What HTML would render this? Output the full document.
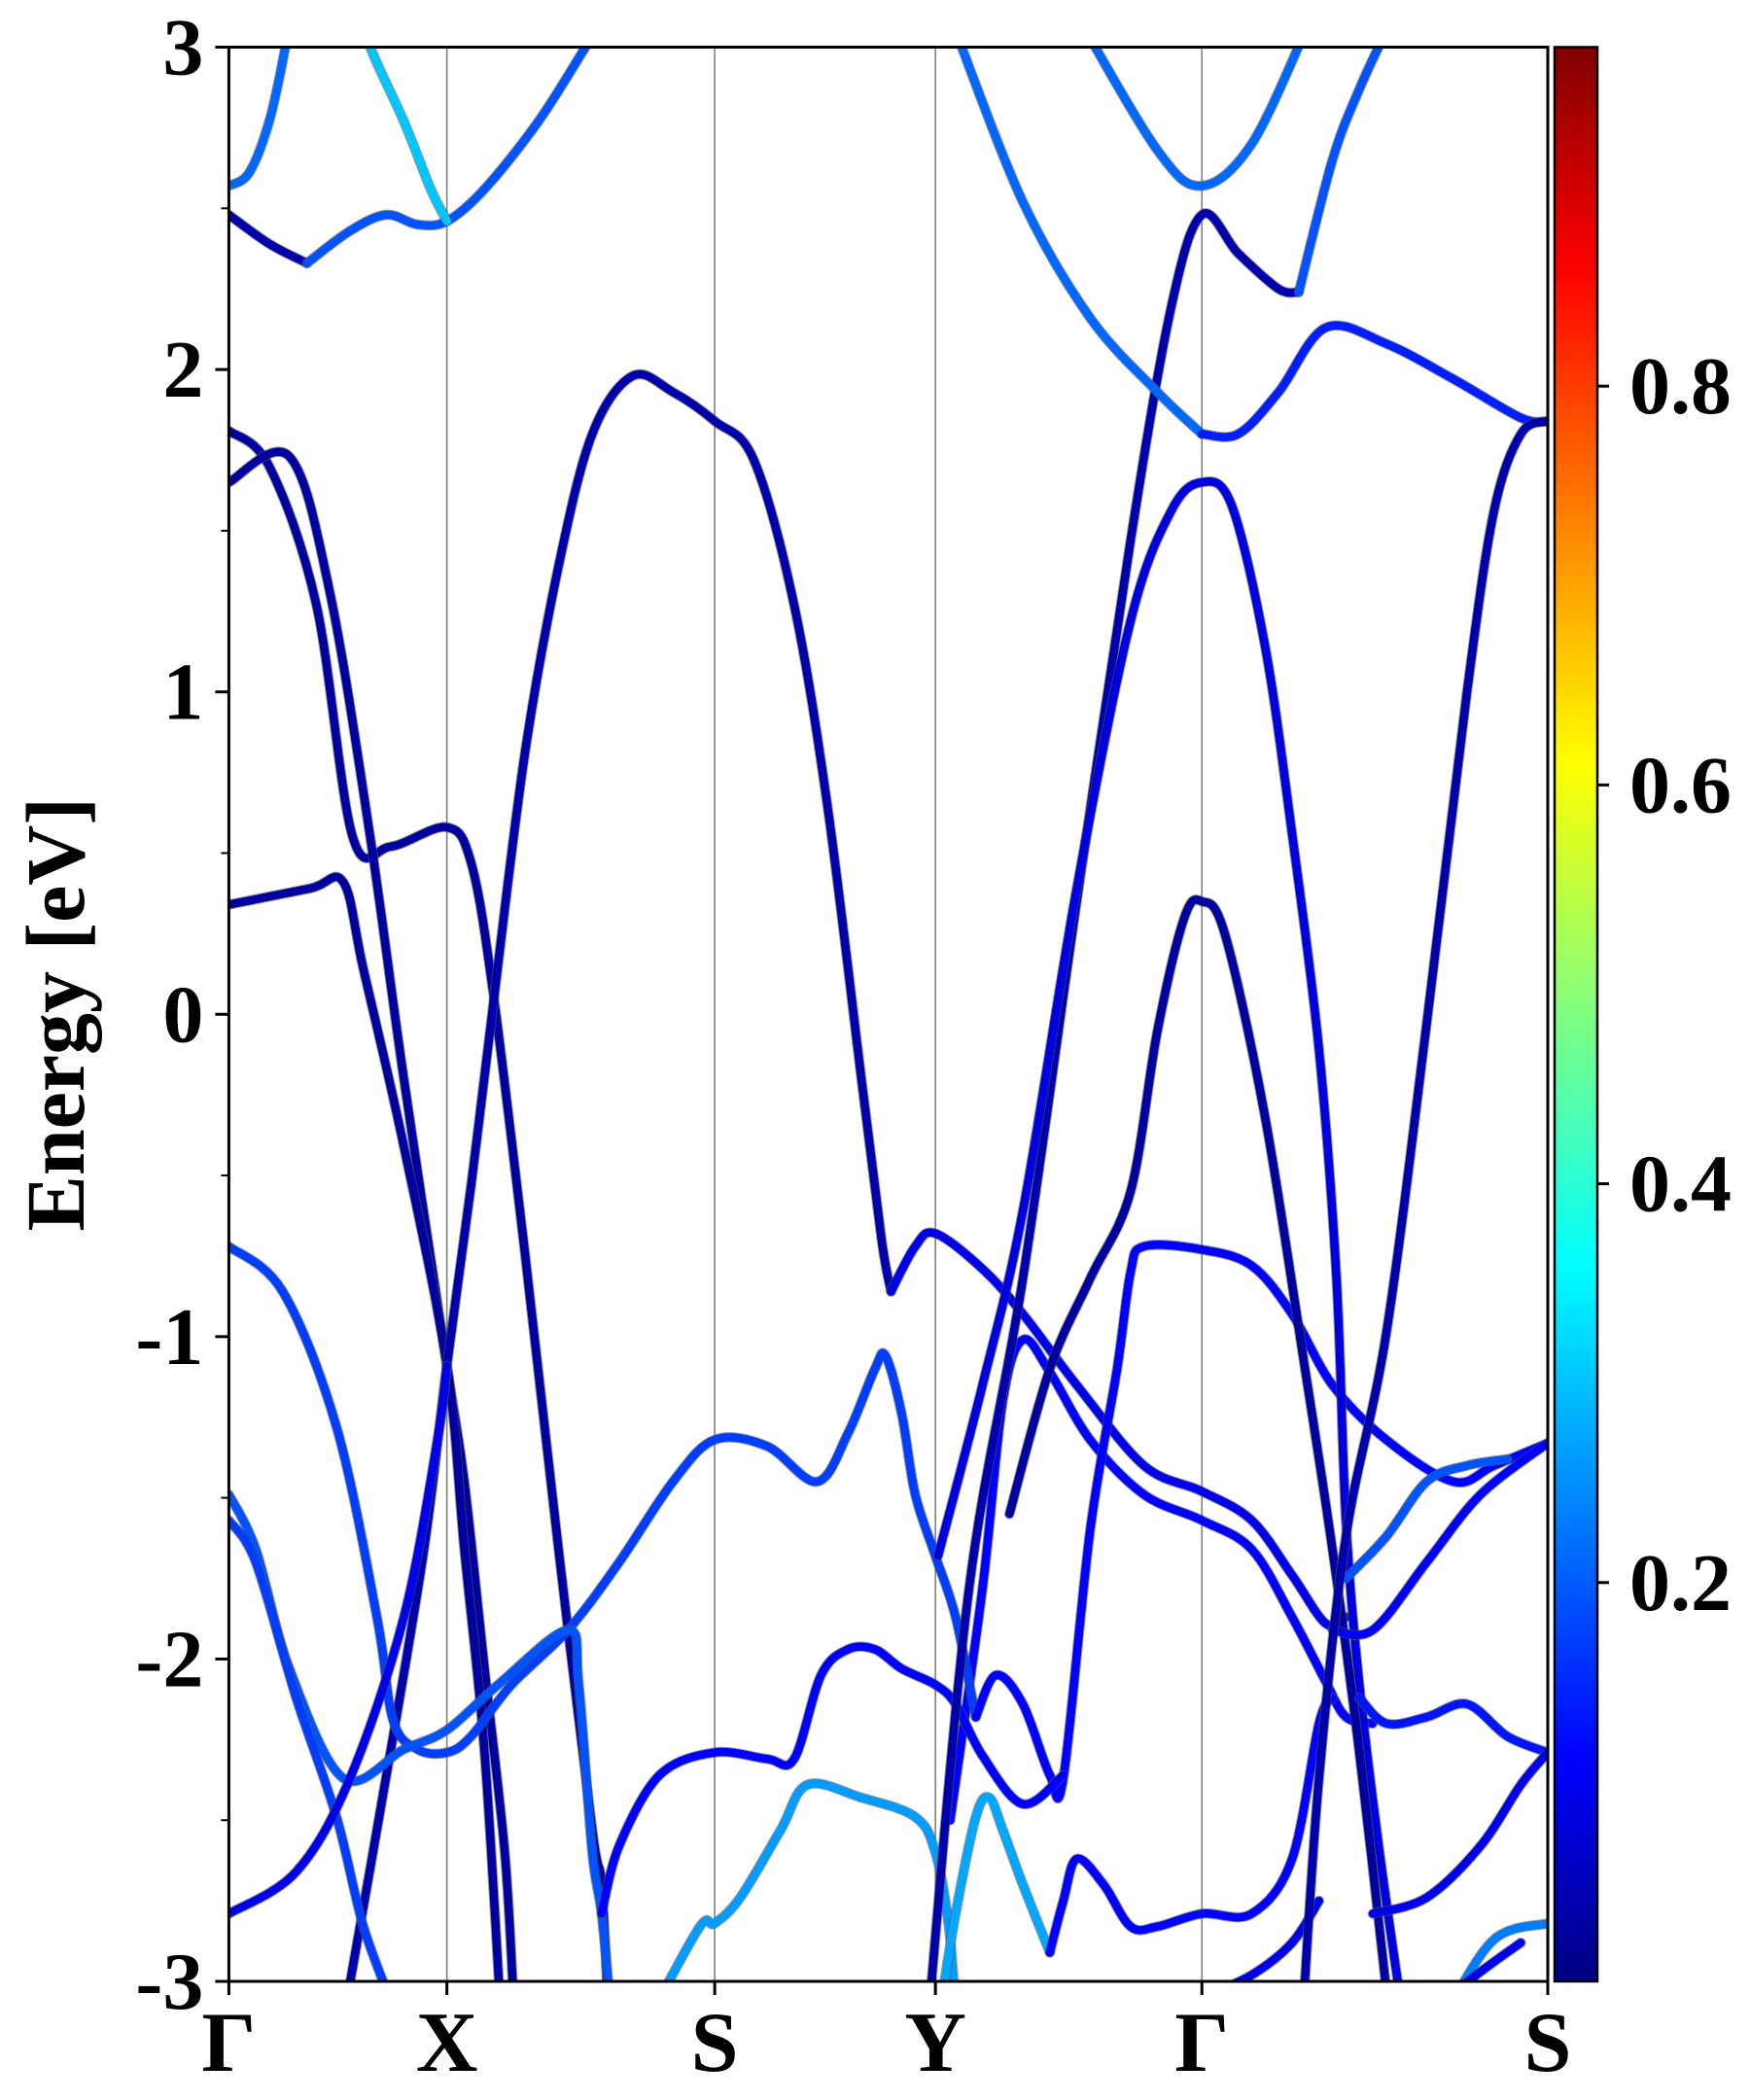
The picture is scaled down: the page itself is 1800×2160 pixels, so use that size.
<!DOCTYPE html>
<html><head><meta charset="utf-8">
<style>
html,body{margin:0;padding:0;background:#fff;}
svg{display:block;}
text{font-family:"Liberation Serif",serif;font-weight:bold;fill:#000;}
</style></head>
<body>
<svg id="chart" width="1800" height="2160" viewBox="0 0 1800 2160" xmlns="http://www.w3.org/2000/svg">
<defs>
<clipPath id="plotclip"><rect x="235.4" y="48.5" width="1356.6" height="1989.5"/></clipPath>
<linearGradient id="jet" x1="0" y1="1" x2="0" y2="0">
<stop offset="0" stop-color="#000080"/>
<stop offset="0.115" stop-color="#0000ff"/>
<stop offset="0.37" stop-color="#00ffff"/>
<stop offset="0.5" stop-color="#80ff80"/>
<stop offset="0.63" stop-color="#ffff00"/>
<stop offset="0.885" stop-color="#ff0000"/>
<stop offset="1" stop-color="#800000"/>
</linearGradient>
</defs>
<g id="bands" clip-path="url(#plotclip)"></g>
<g id="axes"></g>
<g id="colorbar"></g>
</svg>
<script>
const kTickPos = [0, 0.81, 1.805, 2.625, 3.615, 4.9];
const kTickLabels = ["Γ", "X", "S", "Y", "Γ", "S"];
const eTicks = [-3, -2, -1, 0, 1, 2, 3];
const eMinorTicks = [-2.5, -1.5, -0.5, 0.5, 1.5, 2.5];
const cbTicks = [0.2, 0.4, 0.6, 0.8];
const bandWeights = [0.22,0.04,0.2,0.31,0.03,0.03,0.03,0.04,0.1,0.12,0.18,0.12,0.2,0.18,0.1,0.12,0.27,0.28,0.12,0.04,0.2,0.22,0.22,0.15,0.09,0.03,0.14,0.1,0.12,0.1,0.2,0.04,0.24,0.1];
const bandPoints = [
 [[0,2.57],[0.075,2.61],[0.15,2.77],[0.21,3.0],[0.25,3.2]],
 [[0,2.48],[0.15,2.39],[0.29,2.33]],
 [[0.29,2.33],[0.45,2.43],[0.585,2.48],[0.7,2.45],[0.81,2.46],[0.95,2.56],[1.15,2.77],[1.325,3.0],[1.4,3.1]],
 [[0.45,3.2],[0.525,3.0],[0.65,2.77],[0.75,2.56],[0.81,2.46]],
 [[0,1.81],[0.15,1.70],[0.325,1.27],[0.46,0.55],[0.6,0.52],[0.81,0.58],[0.9,0.47],[0.98,0.08],[1.1,-0.74],[1.225,-1.66],[1.35,-2.53],[1.385,-2.70],[1.41,-3.1]],
 [[0,1.65],[0.225,1.73],[0.375,1.31],[0.525,0.55],[0.65,-0.20],[0.81,-1.09],[0.875,-1.45],[0.95,-2.03],[1.025,-2.60],[1.06,-3.1]],
 [[0,0.34],[0.3,0.39],[0.425,0.41],[0.5,0.14],[0.65,-0.41],[0.81,-1.09],[0.875,-1.66],[0.95,-2.29],[1.01,-3.1]],
 [[0.43,-3.1],[0.6,-2.29],[0.725,-1.66],[0.81,-1.09],[0.9,-0.53],[0.985,0.05],[1.1,0.81],[1.225,1.39],[1.35,1.80],[1.5,1.98],[1.65,1.93],[1.805,1.84],[1.95,1.72],[2.1,1.27],[2.225,0.64],[2.35,-0.20],[2.425,-0.70],[2.46,-0.86]],
 [[2.46,-0.86],[2.55,-0.72],[2.625,-0.68],[2.8,-0.79],[2.95,-0.93],[3.15,-1.15],[3.4,-1.40],[3.615,-1.48],[3.8,-1.57],[3.95,-1.74],[4.075,-1.89],[4.15,-1.87]],
 [[2.68,-2.5],[2.8,-1.78],[2.875,-1.20],[2.95,-1.01],[3.05,-1.11],[3.2,-1.32],[3.4,-1.49],[3.615,-1.57],[3.8,-1.66],[3.95,-1.87],[4.075,-2.07],[4.15,-2.18],[4.25,-2.20]],
 [[0,-0.72],[0.2,-0.86],[0.4,-1.28],[0.55,-1.87],[0.61,-2.19],[0.7,-2.28],[0.81,-2.29],[0.9,-2.24],[1.05,-2.08],[1.26,-1.91],[1.45,-1.70],[1.65,-1.45],[1.805,-1.32],[2.0,-1.34],[2.185,-1.45],[2.3,-1.30],[2.4,-1.10],[2.44,-1.06],[2.5,-1.24],[2.55,-1.49],[2.625,-1.68],[2.7,-1.87],[2.775,-2.18]],
 [[2.775,-2.18],[2.85,-2.05],[2.95,-2.14],[3.05,-2.36],[3.1,-2.37],[3.2,-1.60],[3.3,-1.10],[3.35,-0.80],[3.4,-0.72],[3.615,-0.73],[3.8,-0.78],[3.95,-0.93],[4.1,-1.15],[4.3,-1.32],[4.55,-1.45],[4.7,-1.40],[4.9,-1.33]],
 [[0,-1.49],[0.1,-1.66],[0.225,-2.03],[0.425,-2.37],[0.65,-2.28],[0.81,-2.22],[1.0,-2.08],[1.26,-1.91],[1.3,-2.08],[1.35,-2.60],[1.385,-2.79],[1.42,-3.1]],
 [[0,-1.57],[0.1,-1.70],[0.25,-2.12],[0.4,-2.49],[0.5,-2.83],[0.62,-3.1]],
 [[0,-2.79],[0.25,-2.66],[0.45,-2.37],[0.65,-1.87],[0.775,-1.32],[0.81,-1.09]],
 [[1.385,-2.79],[1.45,-2.58],[1.6,-2.36],[1.805,-2.29],[2.0,-2.31],[2.1,-2.31],[2.2,-2.05],[2.3,-1.97],[2.4,-1.97],[2.5,-2.03],[2.625,-2.08],[2.7,-2.14],[2.8,-2.30],[2.95,-2.45],[3.1,-2.36]],
 [[1.57,-3.1],[1.75,-2.83],[1.805,-2.82],[1.9,-2.74],[2.05,-2.53],[2.15,-2.39],[2.35,-2.43],[2.55,-2.49],[2.625,-2.60],[2.675,-2.83],[2.7,-3.1]],
 [[2.64,-3.1],[2.7,-2.79],[2.775,-2.49],[2.825,-2.43],[2.875,-2.53],[2.95,-2.70],[3.05,-2.91]],
 [[3.05,-2.91],[3.1,-2.75],[3.15,-2.62],[3.25,-2.70],[3.35,-2.83],[3.45,-2.83],[3.615,-2.79],[3.8,-2.79],[3.95,-2.62],[4.05,-2.20],[4.1,-2.12]],
 [[2.6,-3.1],[2.75,-1.78],[2.95,-0.82],[3.15,0.35],[3.35,1.47],[3.5,2.19],[3.615,2.48],[3.75,2.36],[3.9,2.25],[3.975,2.24]],
 [[3.975,2.24],[4.1,2.65],[4.2,2.87],[4.3,3.05]],
 [[2.7,3.05],[2.95,2.52],[3.2,2.16],[3.45,1.93],[3.615,1.80]],
 [[3.15,3.1],[3.45,2.68],[3.615,2.57],[3.8,2.70],[4.0,3.05]],
 [[3.615,1.80],[3.75,1.80],[3.9,1.93],[4.075,2.13],[4.3,2.08],[4.55,1.97],[4.8,1.85],[4.9,1.84]],
 [[2.635,-1.68],[2.8,-1.15],[2.95,-0.61],[3.15,0.39],[3.35,1.22],[3.5,1.56],[3.615,1.65],[3.725,1.58],[3.85,1.14],[3.95,0.56],[4.05,-0.11],[4.115,-0.82],[4.15,-1.57],[4.2,-2.08],[4.275,-2.60],[4.36,-3.1]],
 [[2.9,-1.55],[3.05,-1.1],[3.2,-0.82],[3.35,-0.55],[3.45,-0.05],[3.55,0.30],[3.615,0.35],[3.7,0.25],[3.85,-0.32],[4.0,-1.11],[4.1,-1.66],[4.2,-2.29],[4.31,-3.1]],
 [[4.2,-2.12],[4.3,-2.20],[4.45,-2.18],[4.6,-2.14],[4.75,-2.24],[4.9,-2.29]],
 [[4.25,-2.79],[4.45,-2.74],[4.65,-2.58],[4.8,-2.39],[4.9,-2.29]],
 [[4.1,-1.91],[4.25,-1.91],[4.45,-1.70],[4.65,-1.49],[4.9,-1.33]],
 [[3.615,-3.05],[3.8,-2.98],[3.95,-2.88],[4.05,-2.75]],
 [[4.15,-1.75],[4.3,-1.62],[4.45,-1.45],[4.6,-1.40],[4.75,-1.38]],
 [[4.9,1.84],[4.8,1.80],[4.7,1.56],[4.6,1.0],[4.45,-0.03],[4.3,-0.99],[4.15,-1.62],[4.05,-2.37],[3.99,-3.1]],
 [[4.52,-3.1],[4.7,-2.87],[4.9,-2.82]],
 [[4.45,-3.1],[4.65,-2.97],[4.8,-2.88]]
];

const X0 = 235.4, X1 = 1592, Y0 = 48.5, Y1 = 2038;
const KMAX = 4.9, EMIN = -3, EMAX = 3;
function xs(k){ return X0 + k / KMAX * (X1 - X0); }
function ys(e){ return Y0 + (EMAX - e) / (EMAX - EMIN) * (Y1 - Y0); }
const CBMIN = 0, CBMAX = 0.97;
function cbY(v){ return Y1 - (v - CBMIN) / (CBMAX - CBMIN) * (Y1 - Y0); }
function clamp(v){ return Math.max(0, Math.min(1, v)); }
function jet(w){
  const x = w / CBMAX;
  const r = clamp(1.5 - Math.abs(4*x - 3)), g = clamp(1.5 - Math.abs(4*x - 2)), b = clamp(1.5 - Math.abs(4*x - 1));
  return `rgb(${Math.round(r*255)},${Math.round(g*255)},${Math.round(b*255)})`;
}
const NS = "http://www.w3.org/2000/svg";
function mk(tag, attrs, parent){
  const el = document.createElementNS(NS, tag);
  for (const a in attrs) el.setAttribute(a, attrs[a]);
  parent.appendChild(el);
  return el;
}
function pathFrom(pts){
  const p = pts.map(q => [xs(q[0]), ys(q[1])]);
  let d = `M${p[0][0].toFixed(1)},${p[0][1].toFixed(1)}`;
  for (let i = 0; i < p.length - 1; i++){
    const p0 = p[i-1] || p[i], p1 = p[i], p2 = p[i+1], p3 = p[i+2] || p[i+1];
    const c1x = p1[0] + (p2[0]-p0[0])/6, c1y = p1[1] + (p2[1]-p0[1])/6;
    const c2x = p2[0] - (p3[0]-p1[0])/6, c2y = p2[1] - (p3[1]-p1[1])/6;
    d += ` C${c1x.toFixed(1)},${c1y.toFixed(1)} ${c2x.toFixed(1)},${c2y.toFixed(1)} ${p2[0].toFixed(1)},${p2[1].toFixed(1)}`;
  }
  return d;
}
const axes = document.getElementById('axes');
const bands = document.getElementById('bands');
const cb = document.getElementById('colorbar');

kTickPos.forEach((k, i) => {
  if (i === 0 || i === kTickPos.length - 1) return;
  const l = mk('line', {x1: xs(k), x2: xs(k), y1: Y0, y2: Y1, stroke: '#808080', 'stroke-width': 1.6}, bands);
  
  
});

bandPoints.forEach((pts, i) => {
  const d = pathFrom(pts);
  const o = mk('path', {d: d, fill: 'none', stroke: '#555', 'stroke-width': 10.5, 'stroke-linecap': 'round', opacity: 0.6}, bands);
  
  
  const p = mk('path', {d: d, fill: 'none', stroke: jet(bandWeights[i]), 'stroke-width': 8.5, 'stroke-linecap': 'round'}, bands);
  
  
});

const fr = mk('rect', {x: X0, y: Y0, width: X1 - X0, height: Y1 - Y0, fill: 'none', stroke: '#000', 'stroke-width': 3}, axes);



eTicks.forEach(e => {
  const t = mk('line', {x1: X0 - 14, x2: X0, y1: ys(e), y2: ys(e), stroke: '#000', 'stroke-width': 3}, axes);
  
  
  const lb = mk('text', {x: X0 - 26, y: ys(e) + 28, 'text-anchor': 'end', 'font-size': 84}, axes);
  lb.textContent = String(e);
  
  
});
eMinorTicks.forEach(e => {
  const t = mk('line', {x1: X0 - 8, x2: X0, y1: ys(e), y2: ys(e), stroke: '#000', 'stroke-width': 2}, axes);
  
  
});
kTickPos.forEach((k, i) => {
  const t = mk('line', {x1: xs(k), x2: xs(k), y1: Y1, y2: Y1 + 14, stroke: '#000', 'stroke-width': 3}, axes);
  
  
  const lb = mk('text', {x: xs(k), y: Y1 + 92, 'text-anchor': 'middle', 'font-size': 88}, axes);
  lb.textContent = kTickLabels[i];
  
  
});
const yl = mk('text', {x: 0, y: 0, 'text-anchor': 'middle', 'font-size': 86, transform: `translate(86,${(Y0+Y1)/2}) rotate(-90)`}, axes);
yl.textContent = 'Energy [eV]';



const CX0 = 1599, CX1 = 1643;
const cr = mk('rect', {x: CX0, y: Y0, width: CX1 - CX0, height: Y1 - Y0, fill: 'url(#jet)', stroke: '#000', 'stroke-width': 2.5}, cb);


cbTicks.forEach(v => {
  const t = mk('line', {x1: CX1, x2: CX1 + 12, y1: cbY(v), y2: cbY(v), stroke: '#000', 'stroke-width': 3}, cb);
  
  
  const lb = mk('text', {x: CX1 + 33, y: cbY(v) + 28, 'text-anchor': 'start', 'font-size': 84}, cb);
  lb.textContent = v.toFixed(1);
  
  
});
</script>
</body></html>
